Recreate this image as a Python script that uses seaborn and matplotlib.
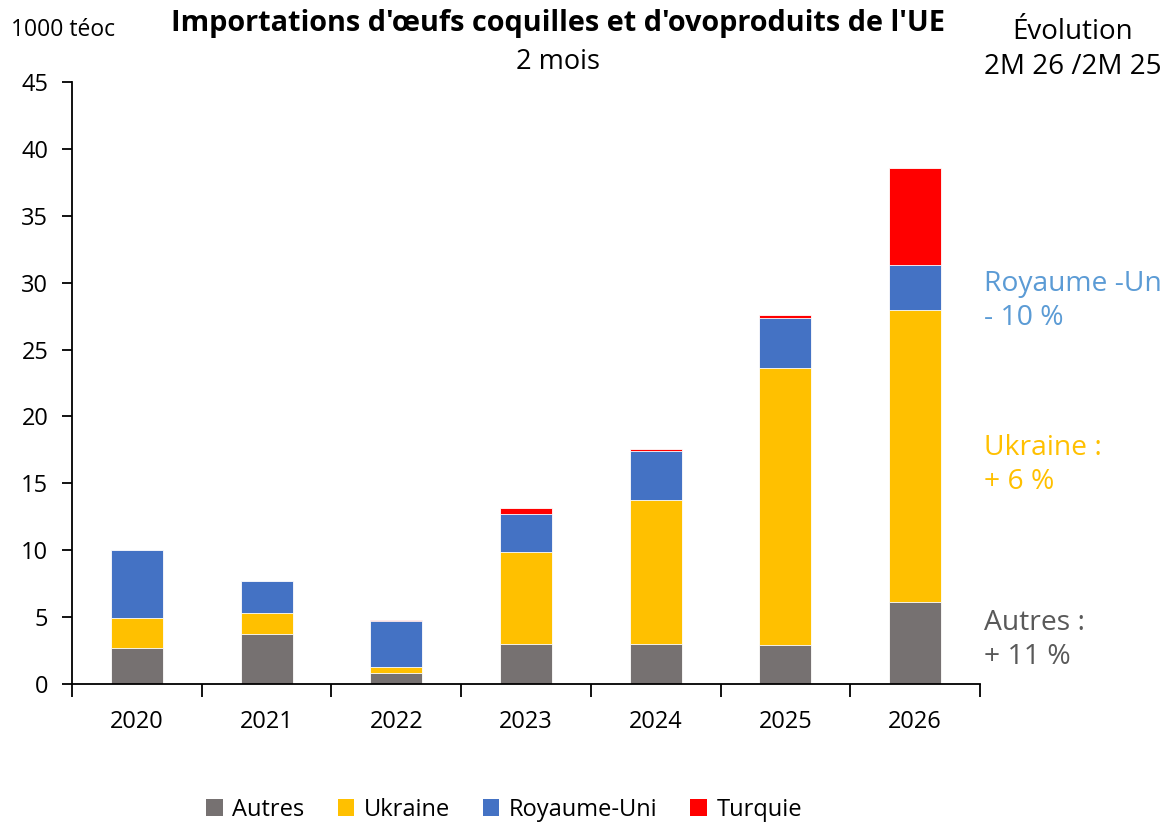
import numpy as np
import pandas as pd
import matplotlib
matplotlib.use("Agg")
import matplotlib.pyplot as plt
import seaborn as sns
from matplotlib.patches import Patch
from matplotlib.ticker import FixedLocator, NullFormatter

# Imports, in thousand tonnes egg-equivalent, first two months of each year
years = ["2020", "2021", "2022", "2023", "2024", "2025", "2026"]
autres = [2.7, 3.7, 0.85, 2.96, 3.0, 2.9, 6.15]
ukraine = [2.2, 1.63, 0.42, 6.89, 10.73, 20.76, 21.8]
royaume_uni = [5.1, 2.34, 3.43, 2.88, 3.71, 3.74, 3.4]
turquie = [0.0, 0.0, 0.05, 0.46, 0.13, 0.22, 7.2]

series_names = ["Autres", "Ukraine", "Royaume-Uni", "Turquie"]
series_colors = ["#767171", "#FFC000", "#4472C4", "#FF0000"]

y_ticks = [0, 5, 10, 15, 20, 25, 30, 35, 40, 45]

sns.set_theme(style="white")
plt.rcParams["font.family"] = ["Open Sans", "DejaVu Sans"]
plt.rcParams["text.color"] = "black"

df = pd.DataFrame({"annee": years, "Autres": autres, "Ukraine": ukraine,
                   "Royaume-Uni": royaume_uni, "Turquie": turquie})
cum = df[series_names].cumsum(axis=1)

fig = plt.figure(figsize=(11.67, 8.22), dpi=100)
ax = fig.add_axes([0.0617, 0.168, 0.778, 0.732])

# Stack by drawing cumulative totals from the top series down
for name, color in reversed(list(zip(series_names, series_colors))):
    sns.barplot(x=df["annee"], y=cum[name], color=color, width=0.40,
                edgecolor="white", linewidth=0.6, saturation=1, ax=ax)

ax.set_xlim(-0.5, 6.5)
ax.set_ylim(0, 45)
ax.set_yticks(y_ticks)
ax.set_xlabel("")
ax.set_ylabel("")

for side in ["top", "right"]:
    ax.spines[side].set_visible(False)
for side in ["left", "bottom"]:
    ax.spines[side].set_color("black")
    ax.spines[side].set_linewidth(1.3)

ax.tick_params(axis="y", which="major", direction="out", length=7, width=1.3,
               color="black", labelsize=17, labelcolor="black", pad=10, left=True)
ax.tick_params(axis="x", which="major", length=0, labelsize=17,
               labelcolor="black", pad=19)
ax.xaxis.set_minor_locator(FixedLocator(np.arange(-0.5, 7.0, 1.0)))
ax.xaxis.set_minor_formatter(NullFormatter())
ax.tick_params(axis="x", which="minor", direction="out", length=9, width=1.3,
               color="black", bottom=True)

# Header texts
fig.text(0.009, 0.963, "1000 téoc", fontsize=16.5, ha="left", va="center")
fig.text(0.478, 0.972, "Importations d'œufs coquilles et d'ovoproduits de l'UE",
         fontsize=20.8, fontweight="bold", ha="center", va="center")
fig.text(0.478, 0.924, "2 mois", fontsize=19.5, ha="center", va="center")
fig.text(0.919, 0.961, "Évolution", fontsize=20, ha="center", va="center")
fig.text(0.919, 0.919, "2M 26 /2M 25", fontsize=20, ha="center", va="center")

# Year-on-year changes
fig.text(0.843, 0.634, "Royaume -Un\n- 10 %", fontsize=20.3, color="#5B9BD5",
         ha="left", va="center", linespacing=1.3)
fig.text(0.843, 0.434, "Ukraine :\n+ 6 %", fontsize=20.3, color="#FFC000",
         ha="left", va="center", linespacing=1.3)
fig.text(0.843, 0.221, "Autres :\n+ 11 %", fontsize=20.3, color="#595959",
         ha="left", va="center", linespacing=1.3)

handles = [Patch(facecolor=c, edgecolor="none", label=n)
           for n, c in zip(series_names, series_colors)]
fig.legend(handles=handles, loc="center", bbox_to_anchor=(0.432, 0.015),
           ncol=4, frameon=False, fontsize=17, handlelength=0.7,
           handleheight=0.7, handletextpad=0.4, columnspacing=1.4)

fig.savefig("out.png", dpi=100)
